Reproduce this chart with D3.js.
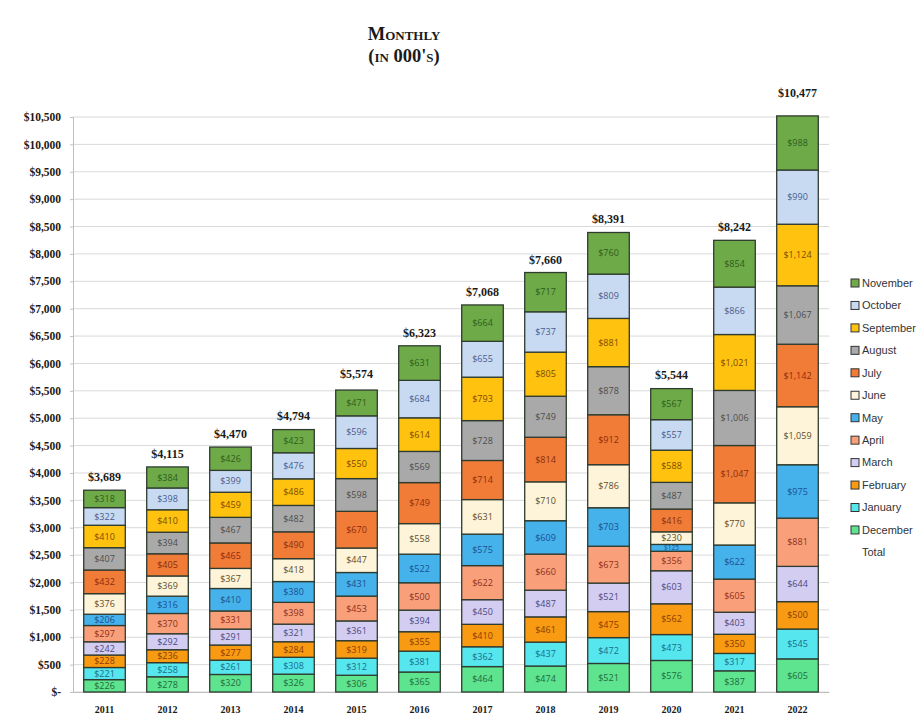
<!DOCTYPE html>
<html>
<head>
<meta charset="utf-8">
<script src="https://cdn.jsdelivr.net/npm/d3@7/dist/d3.min.js"></script>
<style>
  html, body { margin: 0; padding: 0; background: #ffffff; }
  svg { display: block; }
</style>
</head>
<body>
<svg id="chart" width="917" height="728"></svg>
<script>
// Years along the x axis
const years = ["2011","2012","2013","2014","2015","2016","2017","2018","2019","2020","2021","2022"];

// Month series, in stacking order (bottom to top)
const months = ["December","January","February","March","April","May","June","July","August","September","October","November"];

// Monthly amounts (in 000's) per year
const december  = [226, 278, 320, 326, 306, 365, 464, 474, 521, 576, 387, 605];
const january   = [221, 258, 261, 308, 312, 381, 362, 437, 472, 473, 317, 545];
const february  = [228, 236, 277, 284, 319, 355, 410, 461, 475, 562, 350, 500];
const march     = [242, 292, 291, 321, 361, 394, 450, 487, 521, 603, 403, 644];
const april     = [297, 370, 331, 398, 453, 500, 622, 660, 673, 356, 605, 881];
const may       = [206, 316, 410, 380, 431, 522, 575, 609, 703, 125, 622, 975];
const june      = [376, 369, 367, 418, 447, 558, 631, 710, 786, 230, 770, 1059];
const july      = [432, 405, 465, 490, 670, 749, 714, 814, 912, 416, 1047, 1142];
const august    = [407, 394, 467, 482, 598, 569, 728, 749, 878, 487, 1006, 1067];
const september = [410, 410, 459, 486, 550, 614, 793, 805, 881, 588, 1021, 1124];
const october   = [322, 398, 399, 476, 596, 684, 655, 737, 809, 557, 866, 990];
const november  = [318, 384, 426, 423, 471, 631, 664, 717, 760, 567, 854, 988];

// Yearly totals shown above each bar
const totals = [3689, 4115, 4470, 4794, 5574, 6323, 7068, 7660, 8391, 5544, 8242, 10477];

// Y axis tick values
const yTicks = d3.range(0, 10501, 500);

const seriesValues = [december, january, february, march, april, may, june, july, august, september, october, november];

const fillColors = {
  December:  "#5ee38f",
  January:   "#55e6ee",
  February:  "#f89a12",
  March:     "#d3cdf2",
  April:     "#f9a07a",
  May:       "#45b2ec",
  June:      "#fdf4da",
  July:      "#f07c38",
  August:    "#a9a9a9",
  September: "#ffc20e",
  October:   "#c8daf2",
  November:  "#6eab48"
};
const textColors = {
  December:  "#1e6b3c",
  January:   "#1b6d8a",
  February:  "#8a3c00",
  March:     "#4b4a80",
  April:     "#8e2f1a",
  May:       "#1c4f8e",
  June:      "#5e4d2a",
  July:      "#8c2c0c",
  August:    "#4d4d4d",
  September: "#7d4a00",
  October:   "#4a5b8c",
  November:  "#2e5b1c"
};

const rows = years.map((yr, i) => {
  const r = { year: yr };
  months.forEach((m, k) => { r[m] = seriesValues[k][i]; });
  return r;
});

const svg = d3.select("#chart");
const plot = { left: 73, right: 829, top: 117, bottom: 692 };

const x = d3.scaleBand().domain(years).range([plot.left, plot.right]).paddingInner(0.34).paddingOuter(0.17);
const y = d3.scaleLinear().domain([0, 10500]).range([plot.bottom, plot.top]);

const serif = "'Liberation Serif', 'Times New Roman', serif";
const sans = "'Open Sans', 'Noto Sans', sans-serif";

// Title
const title = svg.append("g").attr("font-family", serif).attr("font-weight", "bold")
  .attr("text-anchor", "middle").attr("fill", "#1a1a1a").style("font-variant", "small-caps");
title.append("text").attr("x", 404).attr("y", 40).attr("font-size", 18.5).text("Monthly");
title.append("text").attr("x", 404).attr("y", 62).attr("font-size", 18.5).text("(in 000's)");

// Gridlines
svg.append("g").selectAll("line").data(yTicks).join("line")
  .attr("x1", plot.left).attr("x2", plot.right)
  .attr("y1", d => y(d)).attr("y2", d => y(d))
  .attr("stroke", "#d9d9d9").attr("stroke-width", 1);

// Y axis
const fmt = d3.format(",");
const yAxis = svg.append("g").attr("transform", `translate(${plot.left},0)`)
  .call(d3.axisLeft(y).tickValues(yTicks).tickSize(3).tickPadding(9)
    .tickFormat(d => d === 0 ? "$-" : "$" + fmt(d)));
yAxis.select(".domain").attr("stroke", "#bfbfbf");
yAxis.selectAll(".tick line").attr("stroke", "#bfbfbf");
yAxis.selectAll("text").attr("font-family", serif).attr("font-weight", "bold")
  .attr("font-size", 11.5).attr("fill", "#1a1a1a");

// X axis
const xAxis = svg.append("g").attr("transform", `translate(0,${plot.bottom})`)
  .call(d3.axisBottom(x).tickSize(0).tickPadding(14));
xAxis.select(".domain").attr("stroke", "#bfbfbf");
xAxis.selectAll("text").attr("font-family", serif).attr("font-weight", "bold")
  .attr("font-size", 10).attr("fill", "#1a1a1a");

// Stacked bars
const stack = d3.stack().keys(months)(rows);

const layers = svg.append("g").selectAll("g").data(stack).join("g")
  .attr("fill", d => fillColors[d.key]);

layers.selectAll("rect").data(d => d).join("rect")
  .attr("x", d => x(d.data.year))
  .attr("width", x.bandwidth())
  .attr("y", d => y(d[1]))
  .attr("height", d => y(d[0]) - y(d[1]))
  .attr("stroke", "#2f3b2f").attr("stroke-width", 1.3);

// Segment value labels (thin segments get a smaller label)
svg.append("g").selectAll("g").data(stack).join("g")
  .attr("fill", d => textColors[d.key])
  .selectAll("text").data(d => d).join("text")
  .attr("x", d => x(d.data.year) + x.bandwidth() / 2)
  .attr("y", d => (y(d[0]) + y(d[1])) / 2)
  .attr("dy", "0.35em")
  .attr("text-anchor", "middle")
  .attr("font-family", sans)
  .attr("font-size", d => (y(d[0]) - y(d[1]) < 10 ? 6.5 : 9))
  .text(d => "$" + fmt(d[1] - d[0]));

// Total labels above each bar
svg.append("g").selectAll("text").data(years).join("text")
  .attr("x", d => x(d) + x.bandwidth() / 2)
  .attr("y", (d, i) => {
    const top = Math.min(y(totals[i]), y(d3.sum(seriesValues, s => s[i])));
    // bars reaching the top gridline get their label lifted clear of it
    return top - 10 < plot.top ? plot.top - 20 : top - 9;
  })
  .attr("text-anchor", "middle")
  .attr("font-family", serif).attr("font-weight", "bold").attr("font-size", 12)
  .attr("fill", "#1a1a1a")
  .text((d, i) => "$" + fmt(totals[i]));

// Legend
const legendItems = months.slice().reverse().concat(["Total"]);
const legend = svg.append("g").attr("transform", "translate(851,283)");
const li = legend.selectAll("g").data(legendItems).join("g")
  .attr("transform", (d, i) => `translate(0,${i * 22.45})`);
li.filter(d => d !== "Total").append("rect")
  .attr("x", 0).attr("y", -4).attr("width", 8).attr("height", 8)
  .attr("fill", d => fillColors[d]).attr("stroke", "#333").attr("stroke-width", 1);
li.append("text").attr("x", 11).attr("dy", "0.35em")
  .attr("font-family", "'Liberation Sans', Arial, sans-serif").attr("font-size", 11).attr("fill", "#333")
  .text(d => d);
</script>
</body>
</html>
